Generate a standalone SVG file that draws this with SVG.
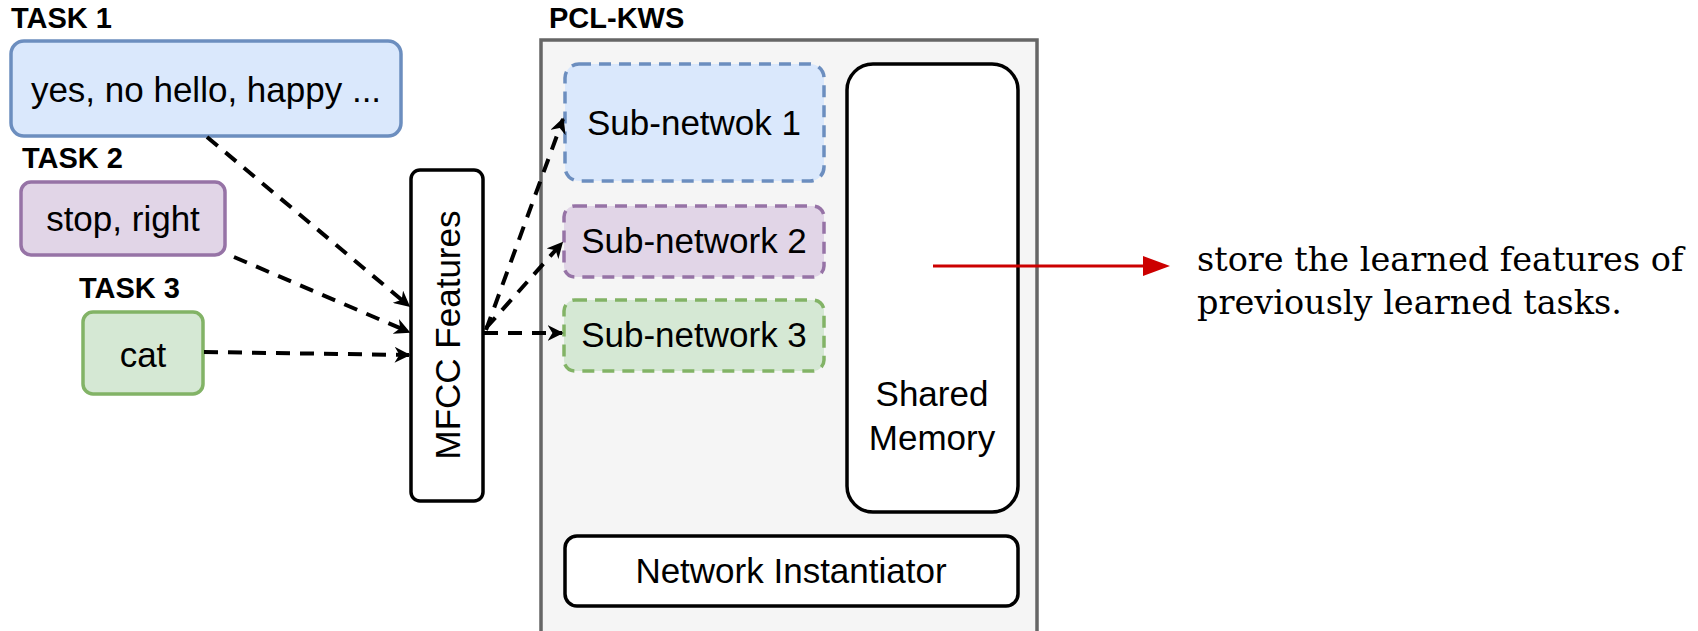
<svg xmlns="http://www.w3.org/2000/svg" width="1698" height="631" viewBox="0 0 1698 631">
<style>
.lbl{font-family:"Liberation Sans",Arial,sans-serif;font-weight:bold;font-size:29px;fill:#000}
.txt{font-family:"Liberation Sans",Arial,sans-serif;font-size:35px;fill:#000;text-anchor:middle}
.note{font-family:"DejaVu Serif",serif;font-size:33.5px;fill:#000}
.blk{fill:#fff;stroke:#000;stroke-width:3.5}
.dash{fill:none;stroke:#000;stroke-width:4;stroke-dasharray:14 10;marker-end:url(#ah)}
</style>
<defs>
<marker id="ah" viewBox="0 0 10 10" refX="9" refY="5" markerWidth="4" markerHeight="4" orient="auto" markerUnits="strokeWidth">
<path d="M0,0 L10,5 L0,10 L3,5 z" fill="#000"/>
</marker>
</defs>
<rect width="1698" height="631" fill="#fff"/>
<g id="pcl-kws">
<rect x="541" y="40" width="496" height="600" fill="#f5f5f5" stroke="#666" stroke-width="3.5"/>
<text class="lbl" x="549" y="28">PCL-KWS</text>
</g>
<g id="task1">
<text class="lbl" x="11" y="28">TASK 1</text>
<rect x="11" y="41" width="390" height="95" rx="13" fill="#dae8fc" stroke="#6c8ebf" stroke-width="3.5"/>
<text class="txt" x="206" y="102">yes, no hello, happy ...</text>
</g>
<g id="task2">
<text class="lbl" x="22" y="168">TASK 2</text>
<rect x="21" y="182" width="204" height="73" rx="10" fill="#e1d5e7" stroke="#9673a6" stroke-width="3.5"/>
<text class="txt" x="123" y="231">stop, right</text>
</g>
<g id="task3">
<text class="lbl" x="79" y="298">TASK 3</text>
<rect x="83" y="312" width="120" height="82" rx="10" fill="#d5e8d4" stroke="#82b366" stroke-width="3.5"/>
<text class="txt" x="143" y="367">cat</text>
</g>
<g id="mfcc">
<rect class="blk" x="411" y="170" width="72" height="331" rx="9"/>
<text class="txt" transform="translate(460,335) rotate(-90)">MFCC Features</text>
</g>
<g id="sub1">
<rect x="565" y="64" width="259" height="117" rx="14" fill="#dae8fc" stroke="#6c8ebf" stroke-width="3.5" stroke-dasharray="12 8"/>
<text class="txt" x="694" y="135">Sub-netwok 1</text>
</g>
<g id="sub2">
<rect x="564" y="206" width="260" height="71" rx="11" fill="#e1d5e7" stroke="#9673a6" stroke-width="3.5" stroke-dasharray="12 8"/>
<text class="txt" x="694" y="253">Sub-network 2</text>
</g>
<g id="sub3">
<rect x="564" y="300" width="260" height="71" rx="11" fill="#d5e8d4" stroke="#82b366" stroke-width="3.5" stroke-dasharray="12 8"/>
<text class="txt" x="694" y="347">Sub-network 3</text>
</g>
<g id="shared-memory">
<rect class="blk" x="847" y="64" width="171" height="448" rx="26"/>
<text class="txt" x="932" y="406">Shared</text>
<text class="txt" x="932" y="450">Memory</text>
</g>
<g id="network-instantiator">
<rect class="blk" x="565" y="536" width="453" height="70" rx="12"/>
<text class="txt" x="791" y="583">Network Instantiator</text>
</g>
<g id="connectors">
<path class="dash" d="M207,137 L409,306"/>
<path class="dash" d="M234,257 L409,332"/>
<path class="dash" d="M204,352 L409,355"/>
<path class="dash" d="M484,333 L562,333"/>
<path class="dash" d="M486,330 L563,119"/>
<path class="dash" d="M486,328 L562,243"/>
<line x1="933" y1="266" x2="1145" y2="266" stroke="#cc0000" stroke-width="3"/>
<path d="M1143,256 L1170,266 L1143,276 z" fill="#cc0000"/>
</g>
<g id="note">
<text class="note" x="1197" y="271">store the learned features of</text>
<text class="note" x="1197" y="314">previously learned tasks.</text>
</g>
</svg>
